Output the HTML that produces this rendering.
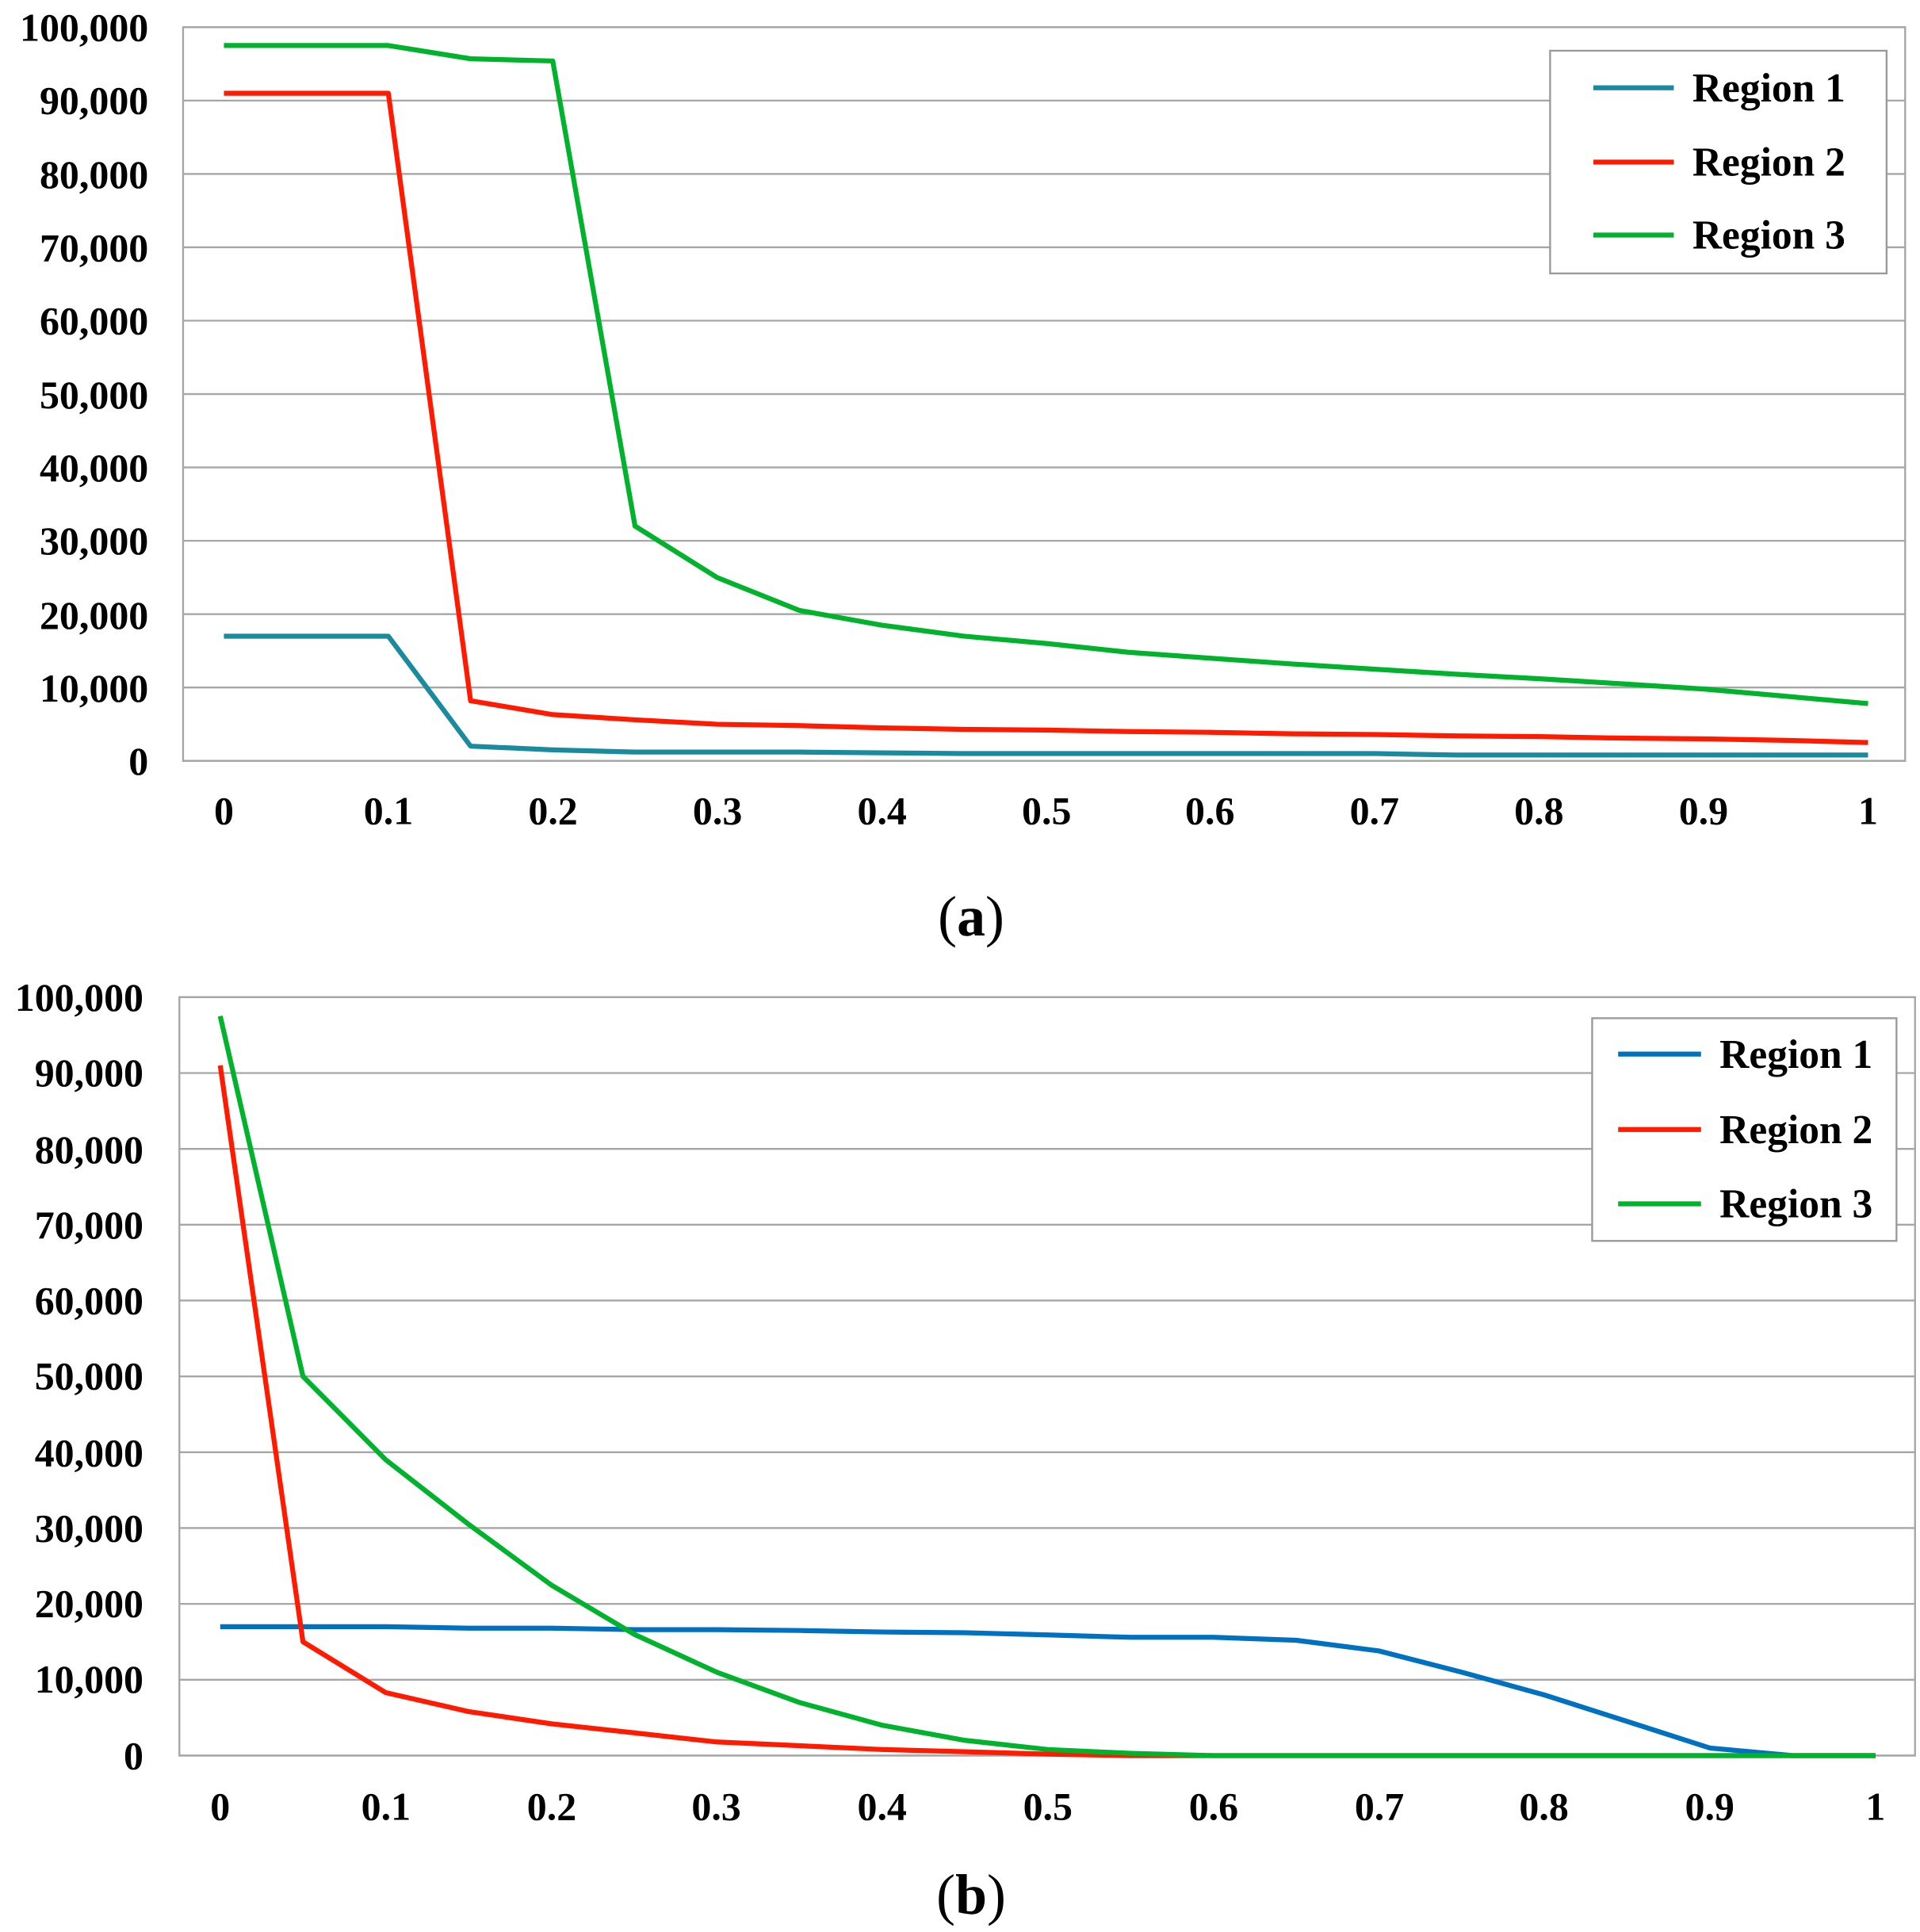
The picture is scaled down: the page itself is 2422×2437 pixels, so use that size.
<!DOCTYPE html>
<html><head><meta charset="utf-8"><style>
html,body{margin:0;padding:0;background:#fff;}
svg{display:block;}
text{font-family:"Liberation Serif",serif;font-weight:bold;fill:#000;}
</style></head><body>
<svg id="s" width="2422" height="2437" viewBox="0 0 1552 1561.6" preserveAspectRatio="none" xmlns="http://www.w3.org/2000/svg">
<g id="ga"></g>
<g id="gb"></g>
<g font-size="32" text-anchor="end">
<text x="120" y="33">100,000</text><text x="120" y="92">90,000</text><text x="120" y="152">80,000</text>
<text x="120" y="211">70,000</text><text x="120" y="270">60,000</text><text x="120" y="330">50,000</text>
<text x="120" y="389">40,000</text><text x="120" y="448">30,000</text><text x="120" y="508">20,000</text>
<text x="120" y="567">10,000</text><text x="120" y="626">0</text>
</g>
<g font-size="32" text-anchor="middle">
<text x="181" y="666">0</text><text x="314" y="666">0.1</text><text x="447" y="666">0.2</text><text x="580" y="666">0.3</text>
<text x="713" y="666">0.4</text><text x="846" y="666">0.5</text><text x="978" y="666">0.6</text><text x="1111" y="666">0.7</text>
<text x="1244" y="666">0.8</text><text x="1377" y="666">0.9</text><text x="1510" y="666">1</text>
</g>
<rect x="1253" y="41" width="272" height="180" fill="#fff" stroke="#999" stroke-width="1.5"/>
<line x1="1288" y1="71" x2="1353" y2="71" stroke="#1a8a9e" stroke-width="4"/>
<line x1="1288" y1="131" x2="1353" y2="131" stroke="#ff1a00" stroke-width="4"/>
<line x1="1288" y1="190" x2="1353" y2="190" stroke="#00b22c" stroke-width="4"/>
<g font-size="33"><text x="1368" y="82">Region 1</text><text x="1368" y="142">Region 2</text><text x="1368" y="201">Region 3</text></g>
<text x="785" y="756" font-size="46" text-anchor="middle" style="font-weight:normal">(<tspan font-weight="bold">a</tspan>)</text>
<g font-size="32" text-anchor="end">
<text x="116" y="817">100,000</text><text x="116" y="878">90,000</text><text x="116" y="940">80,000</text>
<text x="116" y="1001">70,000</text><text x="116" y="1062">60,000</text><text x="116" y="1123">50,000</text>
<text x="116" y="1185">40,000</text><text x="116" y="1246">30,000</text><text x="116" y="1307">20,000</text>
<text x="116" y="1368">10,000</text><text x="116" y="1430">0</text>
</g>
<g font-size="32" text-anchor="middle">
<text x="178" y="1471">0</text><text x="312" y="1471">0.1</text><text x="446" y="1471">0.2</text><text x="579" y="1471">0.3</text>
<text x="713" y="1471">0.4</text><text x="847" y="1471">0.5</text><text x="981" y="1471">0.6</text><text x="1115" y="1471">0.7</text>
<text x="1248" y="1471">0.8</text><text x="1382" y="1471">0.9</text><text x="1516" y="1471">1</text>
</g>
<rect x="1287" y="823" width="246" height="180" fill="#fff" stroke="#999" stroke-width="1.5"/>
<line x1="1308" y1="852" x2="1375" y2="852" stroke="#0070c0" stroke-width="4"/>
<line x1="1308" y1="913" x2="1375" y2="913" stroke="#ff1a00" stroke-width="4"/>
<line x1="1308" y1="973" x2="1375" y2="973" stroke="#00b22c" stroke-width="4"/>
<g font-size="33"><text x="1390" y="863">Region 1</text><text x="1390" y="924">Region 2</text><text x="1390" y="984">Region 3</text></g>
<text x="785" y="1547" font-size="46" text-anchor="middle" style="font-weight:normal">(<tspan font-weight="bold">b</tspan>)</text>
</svg>
<script>
var NS="http://www.w3.org/2000/svg";
function el(g,t,a){var e=document.createElementNS(NS,t);for(var k in a)e.setAttribute(k,a[k]);g.appendChild(e);return e;}
function chart(gid,L,R,T,B,x0,x1,series){
 var g=document.getElementById(gid);
 for(var i=0;i<=10;i++){var y=T+(B-T)*i/10;el(g,"line",{x1:L,x2:R,y1:y,y2:y,stroke:"#a6a6a6","stroke-width":1.5});}
 el(g,"rect",{x:L,y:T,width:R-L,height:B-T,fill:"none",stroke:"#a6a6a6","stroke-width":1.5});
 series.forEach(function(s){
  var p=s.d.map(function(v,i){return (x0+(x1-x0)*i*0.05).toFixed(1)+","+(B-(B-T)*v/100000).toFixed(1);}).join(" ");
  el(g,"polyline",{points:p,fill:"none",stroke:s.c,"stroke-width":4,"stroke-linejoin":"round"});
 });
}
chart("ga",148,1540,22,615,181,1510,[
 {c:"#1a8a9e",d:[17000,17000,17000,2000,1500,1200,1200,1200,1100,1000,1000,1000,1000,1000,1000,800,800,800,800,800,800]},
 {c:"#ff1a00",d:[91000,91000,91000,8200,6300,5600,5000,4800,4500,4300,4200,4000,3900,3700,3600,3400,3300,3100,3000,2800,2500]},
 {c:"#00b22c",d:[97500,97500,97500,95700,95400,32000,25000,20500,18500,17000,16000,14800,14000,13200,12500,11800,11200,10500,9800,8800,7800]}
]);
chart("gb",145,1548,806,1419,178,1516,[
 {c:"#0070c0",d:[17000,17000,17000,16800,16800,16600,16600,16500,16300,16200,15900,15600,15600,15200,13800,11000,8000,4500,1000,0,0]},
 {c:"#ff1a00",d:[91000,15000,8300,5800,4200,3000,1800,1300,800,500,200,0,0,0,0,0,0,0,0,0,0]},
 {c:"#00b22c",d:[97500,50000,39000,30500,22500,16000,11000,7000,4000,2000,800,300,0,0,0,0,0,0,0,0,0]}
]);
</script>
</body></html>
